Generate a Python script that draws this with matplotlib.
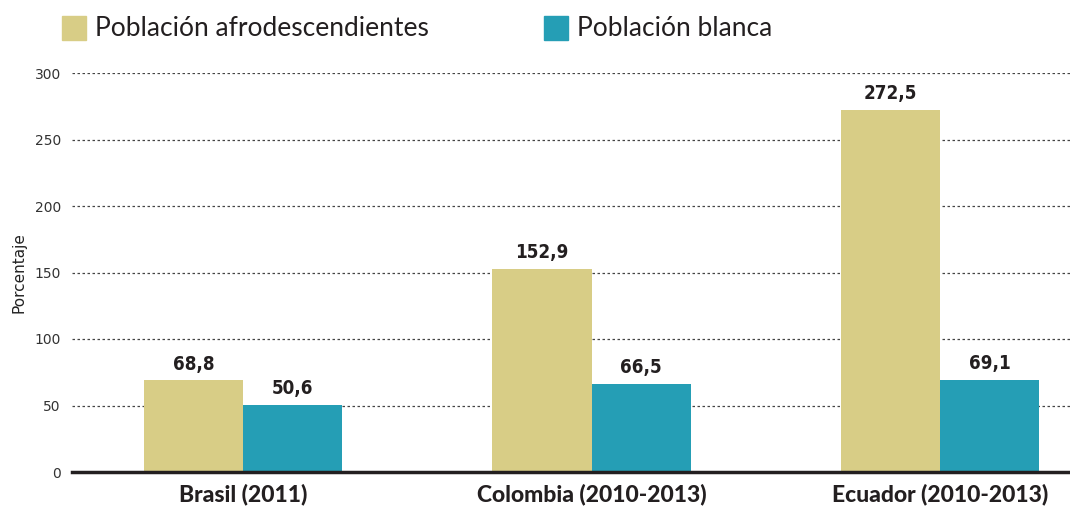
import matplotlib.pyplot as plt
from matplotlib.patches import Rectangle
import numpy as np

plt.rcParams['font.family'] = ['DejaVu Sans']

# datos
categorias = ["Brasil (2011)", "Colombia (2010-2013)", "Ecuador (2010-2013)"]
afro = [68.8, 152.9, 272.5]
blanca = [50.6, 66.5, 69.1]
etiquetas_afro = ["68,8", "152,9", "272,5"]
etiquetas_blanca = ["50,6", "66,5", "69,1"]
serie_nombres = ["Población afrodescendientes", "Población blanca"]

COLOR_AFRO = "#D8CD86"
COLOR_BLANCA = "#259EB5"
TEXTO = "#231F20"


def plot_chart():
    fig = plt.figure(figsize=(10.7, 5.11), dpi=100)
    ax = fig.add_axes([72 / 1070, 1 - 472 / 511, 1 - 72 / 1070, (472 - 73) / 511])

    x = np.arange(len(categorias))
    w = 99 / 348.5

    b1 = ax.bar(x - w / 2, afro, width=w, color=COLOR_AFRO, zorder=3)
    b2 = ax.bar(x + w / 2, blanca, width=w, color=COLOR_BLANCA, zorder=3)

    lab_font = dict(family=["DejaVu Sans"], fontstretch="condensed", fontweight="bold",
                    fontsize=13.5, color=TEXTO)
    ax.bar_label(b1, labels=etiquetas_afro, padding=5, **lab_font)
    ax.bar_label(b2, labels=etiquetas_blanca, padding=5, **lab_font)

    ax.set_xlim((72 - 243) / 348.5, (1070 - 243) / 348.5)
    ax.set_ylim(0, 300)
    ax.set_yticks(range(0, 301, 50))
    ax.set_xticks(x)
    ax.set_xticklabels(categorias, fontsize=16.5, fontweight="black", family=["Lato", "DejaVu Sans"],
                       color=TEXTO)
    ax.tick_params(axis="x", length=0, pad=8)
    ax.tick_params(axis="y", length=0, pad=8, labelsize=10, labelcolor="#333333")
    ax.set_ylabel("Porcentaje", fontsize=11, color="#222222", labelpad=6)

    for g in range(50, 301, 50):
        ax.axhline(g, color="#444444", linestyle=(0, (2, 2)), linewidth=0.9, zorder=1)

    for s in ["top", "right", "left"]:
        ax.spines[s].set_visible(False)
    ax.spines["bottom"].set_linewidth(2.5)
    ax.spines["bottom"].set_color("#231F20")
    ax.spines["bottom"].set_zorder(4)

    # leyenda manual
    for px, color, name in [(62, COLOR_AFRO, serie_nombres[0]), (544, COLOR_BLANCA, serie_nombres[1])]:
        fig.patches.append(Rectangle((px / 1070, 1 - 40 / 511), 24 / 1070, 24 / 511,
                                     transform=fig.transFigure, color=color))
        fig.text((px + 33) / 1070, 1 - 29 / 511, name, fontsize=19, color=TEXTO,
                 family=["Lato", "DejaVu Sans"], va="center", ha="left")

    plt.savefig("out.png", dpi=100)


if __name__ == "__main__":
    plot_chart()
